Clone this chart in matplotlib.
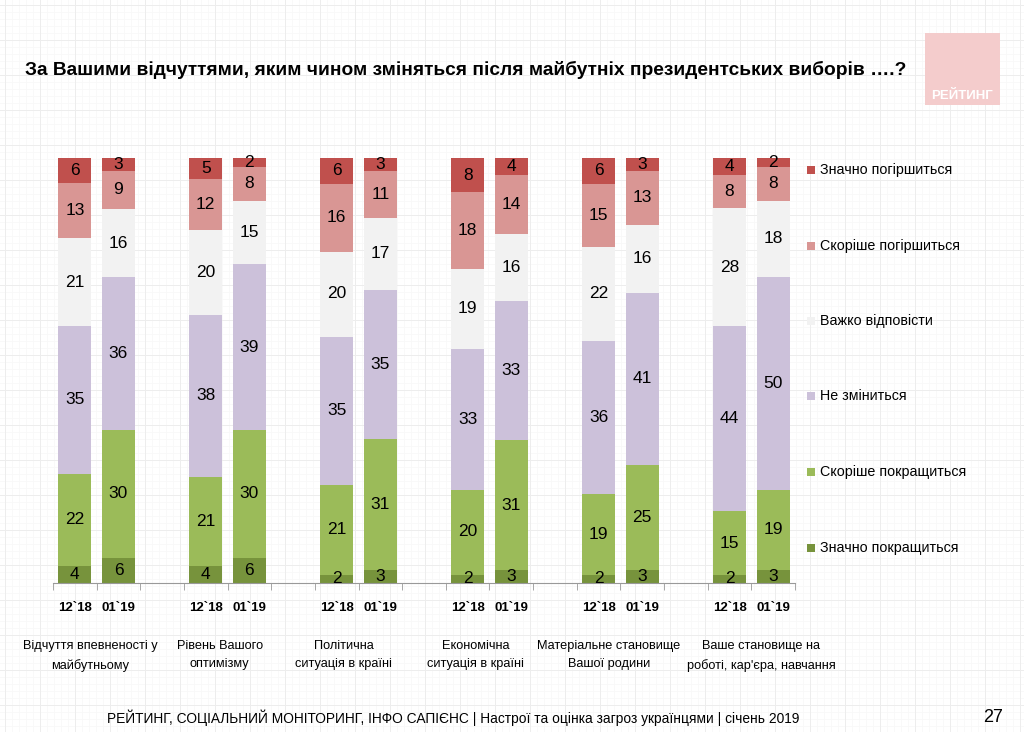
import matplotlib.pyplot as plt
import matplotlib.patches as mpatches
import numpy as np

plt.rcParams['font.family'] = ['Liberation Sans', 'DejaVu Sans']

# дані
groups = ['Відчуття впевненості у\nмайбутньому', 'Рівень Вашого\nоптимізму',
          'Політична\nситуація в країні', 'Економічна\nситуація в країні',
          'Матеріальне становище\nВашої родини', 'Ваше становище на\nроботі, кар\'єра, навчання']
waves = ['12`18', '01`19']
series = ['Значно покращиться', 'Скоріше покращиться', 'Не зміниться',
          'Важко відповісти', 'Скоріше погіршиться', 'Значно погіршиться']
colors = ['#77933C', '#9BBB59', '#CCC1DA', '#F2F2F2', '#D99694', '#C0504D']

# значення по кожному стовпчику (знизу вгору), 12`18 та 01`19 для кожної групи
much_better = [4, 6, 4, 6, 2, 3, 2, 3, 2, 3, 2, 3]
rather_better = [22, 30, 21, 30, 21, 31, 20, 31, 19, 25, 15, 19]
no_change = [35, 36, 38, 39, 35, 35, 33, 33, 36, 41, 44, 50]
hard_to_say = [21, 16, 20, 15, 20, 17, 19, 16, 22, 16, 28, 18]
rather_worse = [13, 9, 12, 8, 16, 11, 18, 14, 15, 13, 8, 8]
much_worse = [6, 3, 5, 2, 6, 3, 8, 4, 6, 3, 4, 2]

data = np.array([much_better, rather_better, no_change, hard_to_say, rather_worse, much_worse], dtype=float)
shares = data / data.sum(axis=0) * 100  # 100% стовпчики

# зсув підписів груп (як в оригіналі, не точно по центру)
label_shift = [-0.14, -0.18, -0.34, -0.32, -0.27, 0.23]

# позиції: 2 стовпчики + пропуск
xpos = []
for g in range(len(groups)):
    xpos += [g * 3, g * 3 + 1]
xpos = np.array(xpos)

fig = plt.figure(figsize=(10.24, 7.32), dpi=100, facecolor='white')

# фон у клітинку
bg = fig.add_axes([0, 0, 1, 1], zorder=-10)
bg.set_xlim(0, 1024)
bg.set_ylim(732, 0)
for v in np.arange(5, 1024, 7):
    bg.axvline(v, color='#f8f8f8', lw=0.6, zorder=0)
for v in np.arange(5, 732, 7):
    bg.axhline(v, color='#f8f8f8', lw=0.6, zorder=0)
for v in np.arange(5, 1024, 35):
    bg.axvline(v, color='#ededed', lw=0.7, zorder=0)
for v in np.arange(5, 732, 35):
    bg.axhline(v, color='#ededed', lw=0.7, zorder=0)
bg.axis('off')

# логотип
bg.add_patch(mpatches.Rectangle((925, 33), 75, 72, color='#F4CCCC', lw=0, zorder=5))
bg.text(962, 96, 'РЕЙТИНГ', color='white', fontsize=9.5, fontweight='bold',
        ha='center', va='center', zorder=6)

ax = fig.add_axes([53 / 1024, 1 - 583 / 732, 742 / 1024, 425 / 732])
ax.set_facecolor('none')

bottom = np.zeros(len(xpos))
for i in range(len(series)):
    ax.bar(xpos, shares[i], 0.75, bottom=bottom, color=colors[i], label=series[i], zorder=2)
    for x, b, h, v in zip(xpos, bottom, shares[i], data[i]):
        ax.text(x, b + h / 2, '%d' % v, ha='center', va='center', fontsize=12.5, color='black', zorder=3)
    bottom += shares[i]

ax.set_xlim(-0.5, xpos[-1] + 0.5)
ax.set_ylim(0, 100)
ax.set_yticks([])
for s in ['top', 'right', 'left']:
    ax.spines[s].set_visible(False)
ax.spines['bottom'].set_color('#999999')
ax.set_xticks(np.arange(-0.5, xpos[-1] + 1, 1), minor=True)
ax.tick_params(axis='x', which='minor', length=5, color='#999999', direction='out')
ax.set_xticks(xpos)
ax.set_xticklabels(waves * len(groups), fontsize=9.5, fontweight='bold')
ax.tick_params(axis='x', which='major', length=0, pad=14)

for g, name in enumerate(groups):
    ax.text(g * 3 + 0.5 + label_shift[g], -13.3, name, ha='center', va='top', fontsize=9.2,
            linespacing=1.75, transform=ax.transData)

# легенда
ly = [170, 246, 321, 396, 472, 548]
for i, y in enumerate(ly):
    k = len(series) - 1 - i
    bg.add_patch(mpatches.Rectangle((807, y - 4), 8, 8, color=colors[k], lw=0, zorder=5))
    bg.text(820, y, series[k], fontsize=10.3, va='center', ha='left', zorder=6)

fig.text(25 / 1024, 1 - 70 / 732, 'За Вашими відчуттями, яким чином зміняться після майбутніх президентських виборів ….?',
         fontsize=13.8, fontweight='bold', va='center', ha='left')
fig.text(107 / 1024, 1 - 718 / 732,
         'РЕЙТИНГ, СОЦІАЛЬНИЙ МОНІТОРИНГ, ІНФО САПІЄНС | Настрої та оцінка загроз українцями | січень 2019',
         fontsize=9.9, va='center', ha='left')
fig.text(983 / 1024, 1 - 718 / 732, '27', fontsize=13, va='center', ha='left')

fig.savefig('out.png', dpi=100)
